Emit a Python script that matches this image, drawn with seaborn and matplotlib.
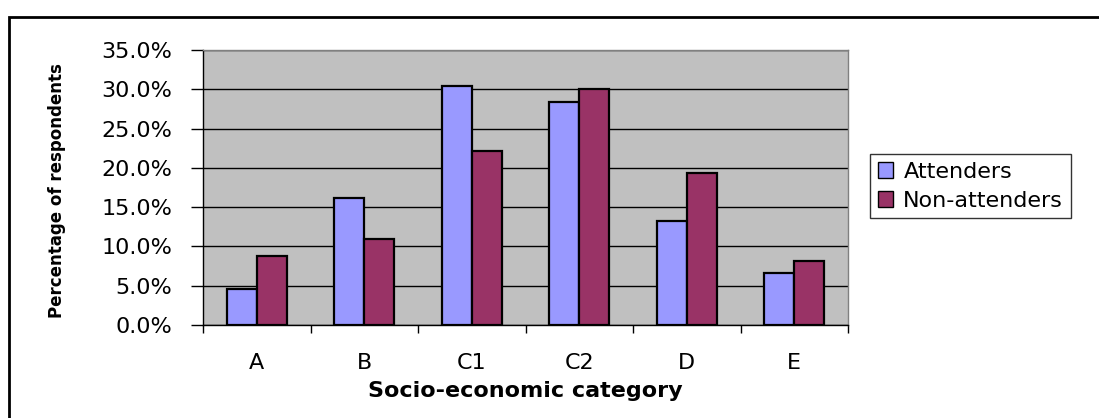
import matplotlib
matplotlib.use('Agg')
import matplotlib.pyplot as plt
from matplotlib.patches import Rectangle
from matplotlib.ticker import FixedLocator, FuncFormatter
import seaborn as sns
import pandas as pd

# Values (percent of respondents)
categories = ['A', 'B', 'C1', 'C2', 'D', 'E']
attenders = [4.6, 16.2, 30.4, 28.4, 13.2, 6.6]
non_attenders = [8.8, 11.0, 22.2, 30.0, 19.4, 8.2]
series_names = ['Attenders', 'Non-attenders']
y_ticks = [0, 5, 10, 15, 20, 25, 30, 35]

bar_colors = ['#9999FF', '#993366']

df = pd.DataFrame({
    'category': categories * 2,
    'value': attenders + non_attenders,
    'group': [series_names[0]] * len(categories) + [series_names[1]] * len(categories),
})

sns.set_style('white')
plt.rcParams['font.family'] = ['DejaVu Sans']
plt.rcParams['text.color'] = 'black'
plt.rcParams['axes.labelcolor'] = 'black'
plt.rcParams['xtick.color'] = 'black'
plt.rcParams['ytick.color'] = 'black'

W, H = 1099, 418
fig = plt.figure(figsize=(W / 100, H / 100), dpi=100)
ax = fig.add_axes([203 / W, 1 - 325 / H, 645 / W, 275 / H])
ax.set_facecolor('#C0C0C0')

sns.barplot(data=df, x='category', y='value', hue='group', order=categories,
            hue_order=series_names, palette=bar_colors, width=0.56,
            edgecolor='black', linewidth=1.6, saturation=1, ax=ax, zorder=3)

ax.set_xlim(-0.5, len(categories) - 0.5)
ax.set_ylim(0, 35)
ax.yaxis.set_major_locator(FixedLocator(y_ticks))
ax.yaxis.set_major_formatter(FuncFormatter(lambda v, _: f'{v:.1f}%'))
ax.yaxis.grid(True, color='black', linewidth=1)
ax.set_axisbelow(True)

# category boundaries carry the tick marks, labels sit between them
ax.xaxis.set_minor_locator(FixedLocator([i - 0.5 for i in range(len(categories) + 1)]))
ax.tick_params(axis='x', which='major', length=0, pad=20, labelsize=16)
ax.tick_params(axis='x', which='minor', length=6, width=1, color='black', direction='out', bottom=True)
ax.tick_params(axis='y', length=9, width=1, color='black', direction='out', left=True,
               labelsize=16, pad=13)

for side in ['left', 'bottom']:
    ax.spines[side].set_color('black')
    ax.spines[side].set_linewidth(1)
for side in ['top', 'right']:
    ax.spines[side].set_color('#808080')
    ax.spines[side].set_linewidth(1)

ax.set_xlabel('Socio-economic category', fontsize=16, fontweight='bold', labelpad=6)
ax.set_ylabel('Percentage of respondents', fontsize=12, fontweight='bold')
ax.yaxis.set_label_coords(-0.212, 0.49)

ax.legend_.remove()
handles = [Rectangle((0, 0), 1, 1, facecolor=c, edgecolor='black', linewidth=1) for c in bar_colors]
leg = fig.legend(handles, series_names, loc='upper left',
                 bbox_to_anchor=(870 / W, 1 - 154 / H), bbox_transform=fig.transFigure,
                 fontsize=16, frameon=True, fancybox=False, edgecolor='black',
                 handlelength=0.7, handleheight=0.7, handletextpad=0.45,
                 borderpad=0.35, labelspacing=0.4, borderaxespad=0)
leg.get_frame().set_linewidth(1)

# chart-area border, running off the right and bottom of the image
fig.add_artist(Rectangle((9 / W, -0.1), 1.2, 1.1 - 17 / H, transform=fig.transFigure,
                         fill=False, edgecolor='black', linewidth=2, clip_on=False))

fig.savefig('out.png', dpi=100)
